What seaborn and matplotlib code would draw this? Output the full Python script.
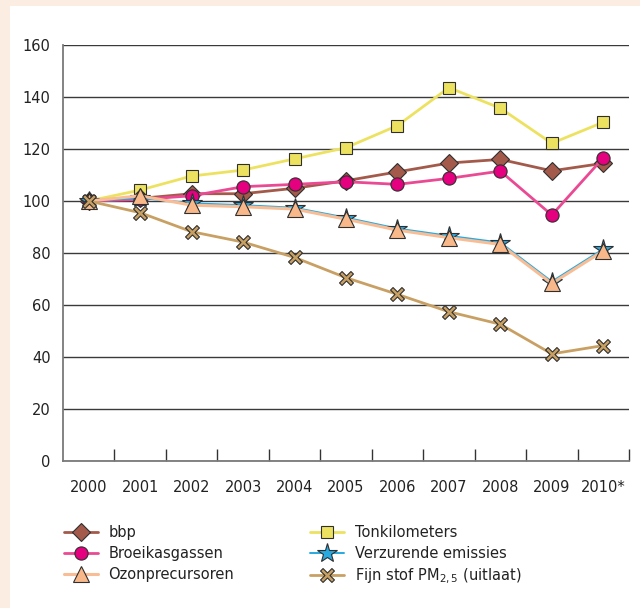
import numpy as np
import pandas as pd
import matplotlib
matplotlib.use("Agg")
import matplotlib.pyplot as plt
from matplotlib.patches import Rectangle
from matplotlib.path import Path
import seaborn as sns

years = ["2000", "2001", "2002", "2003", "2004", "2005", "2006", "2007", "2008", "2009", "2010*"]

tonkilometers = [100, 104.2, 109.6, 111.9, 116.2, 120.5, 129.0, 143.6, 135.7, 122.2, 130.3]
bbp = [100, 101.0, 102.8, 102.8, 104.9, 107.8, 111.2, 114.6, 116.0, 111.6, 114.5]
broeikasgassen = [100, 100.6, 102.0, 105.5, 106.4, 107.4, 106.4, 108.7, 111.5, 94.6, 116.6]
verzurende = [100, 101.2, 99.1, 98.4, 97.4, 93.6, 89.4, 86.6, 84.0, 69.0, 81.5]
ozon = [100, 102.0, 98.4, 97.8, 96.9, 93.0, 88.8, 85.9, 83.3, 68.3, 80.8]
fijnstof = [100, 95.5, 88.2, 84.2, 78.3, 70.5, 64.1, 57.4, 52.6, 41.2, 44.4]

# outlined cross for the PM2,5 marker
w = 0.36
cross = Path([(-1, -1 + w), (-w, 0), (-1, 1 - w), (-1 + w, 1), (0, w), (1 - w, 1), (1, 1 - w),
              (w, 0), (1, -1 + w), (1 - w, -1), (0, -w), (-1 + w, -1), (-1, -1 + w)],
             closed=True)

# name, values, line colour, line width, marker, marker colour, marker size
series = [
    ("Tonkilometers", tonkilometers, "#ede260", 2.0, "s", "#ede260", 9),
    ("bbp", bbp, "#a35a4a", 2.0, "D", "#a35a4a", 9),
    ("Broeikasgassen", broeikasgassen, "#ea4a93", 2.0, "o", "#e4007f", 9.5),
    ("Verzurende emissies", verzurende, "#27a9e1", 1.4, "*", "#27a9e1", 15),
    ("Ozonprecursoren", ozon, "#f8bd94", 2.2, "^", "#f8b88a", 11),
    ("Fijn stof PM$_{2,5}$ (uitlaat)", fijnstof, "#c9a063", 2.0, cross, "#c9a063", 10),
]

sns.set_style("white")
plt.rcParams["font.family"] = ["DejaVu Sans"]

fig = plt.figure(figsize=(6.4, 6.08), dpi=100)
fig.patch.set_facecolor("#fcede3")
fig.patches.append(Rectangle((10 / 640, 0), 1, (608 - 6) / 608, transform=fig.transFigure,
                             facecolor="white", edgecolor="none", zorder=-10))
ax = fig.add_axes([63 / 640, 1 - 461 / 608, (629 - 63) / 640, (461 - 45) / 608])
ax.set_facecolor("white")

handles = {}
for i, (name, vals, lc, lw, mk, mc, ms) in enumerate(series):
    df = pd.DataFrame({"jaar": years, "waarde": vals})
    sns.lineplot(data=df, x="jaar", y="waarde", ax=ax, color=lc, linewidth=lw,
                 marker=mk, markersize=ms, markerfacecolor=mc, markeredgecolor="#2f2f2f",
                 markeredgewidth=0.8, zorder=3 + i)
    handles[name] = ax.lines[-1]

ax.set_ylim(0, 160)
ax.set_xlim(-0.5, len(years) - 0.5)
ax.set_yticks(range(0, 161, 20))
ax.yaxis.grid(True, color="#3a3a3a", linewidth=1)
ax.set_axisbelow(True)
for s in ["top", "right"]:
    ax.spines[s].set_visible(False)
for s in ["left", "bottom"]:
    ax.spines[s].set_color("#7a7a7a")
    ax.spines[s].set_linewidth(1.3)

ax.set_xticks(range(len(years)))
ax.set_xticklabels(years)
ax.set_xticks(np.arange(0.5, len(years), 1), minor=True)
ax.tick_params(axis="x", which="major", length=0, pad=14, labelsize=10.5, colors="#222222")
ax.tick_params(axis="x", which="minor", bottom=True, direction="in", length=9, width=1,
               color="#333333")
ax.tick_params(axis="y", length=0, pad=9, labelsize=10.5, colors="#222222")
ax.set_xlabel("")
ax.set_ylabel("")

order = ["bbp", "Broeikasgassen", "Ozonprecursoren",
         "Tonkilometers", "Verzurende emissies", "Fijn stof PM$_{2,5}$ (uitlaat)"]
leg = fig.legend([handles[n] for n in order], order, ncol=2, frameon=False,
                 loc="upper left", bbox_to_anchor=(64 / 640, 1 - 525 / 608),
                 borderpad=0, borderaxespad=0,
                 fontsize=10.5, handlelength=2.35, handletextpad=0.7,
                 columnspacing=5.2, labelspacing=0.4)
for t in leg.get_texts():
    t.set_color("#222222")

fig.savefig("out.png", dpi=100, facecolor=fig.get_facecolor())
